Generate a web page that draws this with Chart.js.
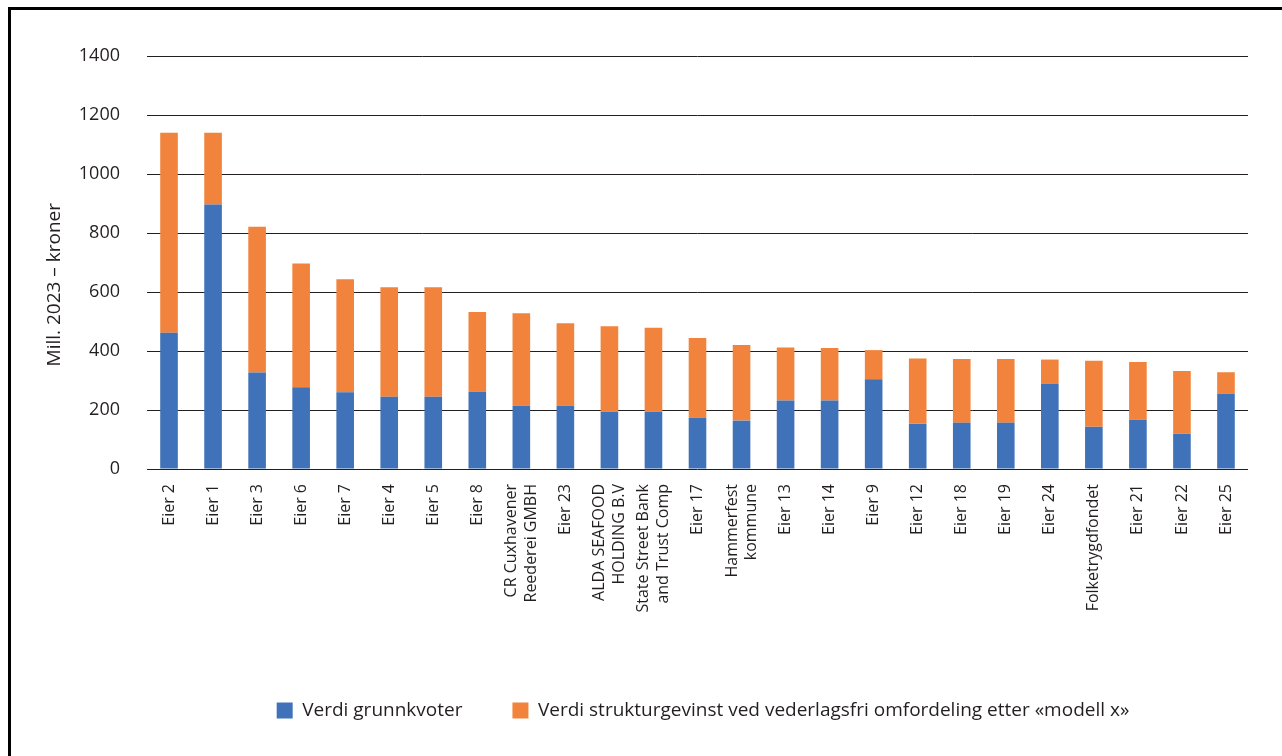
<!DOCTYPE html>
<html>
<head>
<meta charset="utf-8">
<script src="https://cdn.jsdelivr.net/npm/chart.js@4.4.1/dist/chart.umd.min.js"></script>
<style>
    body { margin: 0; background: #fff; }
    #ramme {
        position: absolute; left: 8px; top: 7px;
        width: 1300px; height: 800px;
        border: 3px solid #000;
    }
    #boks { position: absolute; left: 0; top: 0; width: 1282px; height: 756px; }
</style>
</head>
<body>
<div id="ramme"></div>
<div id="boks"><canvas id="graficoEiere"></canvas></div>
<script>
const eiere = [
    "Eier 2", "Eier 1", "Eier 3", "Eier 6", "Eier 7", "Eier 4", "Eier 5", "Eier 8",
    ["CR Cuxhavener", "Reederei GMBH"], "Eier 23", ["ALDA SEAFOOD", "HOLDING B.V"],
    ["State Street Bank", "and Trust Comp"], "Eier 17", ["Hammerfest", "kommune"],
    "Eier 13", "Eier 14", "Eier 9", "Eier 12", "Eier 18", "Eier 19", "Eier 24",
    "Folketrygdfondet", "Eier 21", "Eier 22", "Eier 25",
];
const grunnkvoter = [
    462, 897, 327, 277, 260, 245, 245, 262, 214, 214, 194, 194, 174, 164,
    232, 232, 304, 153, 157, 157, 290, 143, 167, 120, 255,
];
const strukturgevinst = [
    678, 243, 494, 420, 383, 371, 371, 270, 314, 280, 290, 285, 270, 256,
    180, 178, 99, 222, 216, 216, 81, 224, 196, 212, 73,
];
const yTicks = [0, 200, 400, 600, 800, 1000, 1200, 1400];

const ctx = document.getElementById("graficoEiere").getContext("2d");
const fonte = "'Open Sans', 'Noto Sans', sans-serif";
Chart.defaults.font.family = fonte;
Chart.defaults.color = "#231f20";

// legenden står litt til høyre for midten i originalen
const flyttLegende = {
    id: "flyttLegende",
    afterLayout: (chart) => {
        chart.legend.left += 59;
        chart.legend.right += 59;
    },
};

// sentrer etiketter med to linjer over stolpen
const sentrerEtiketter = {
    id: "sentrerEtiketter",
    beforeDraw: (chart) => {
        const items = chart.scales.x.getLabelItems();
        items.forEach((item) => {
            if (Array.isArray(item.label) && !item._flyttet) {
                item.textOffset -= ((item.label.length - 1) * item.font.lineHeight) / 2;
                item._flyttet = true;
            }
        });
    },
};

new Chart(ctx, {
    type: "bar",
    data: {
        labels: eiere,
        datasets: [
            {
                label: "Verdi grunnkvoter",
                data: grunnkvoter,
                backgroundColor: "#3f72b8",
                borderWidth: 0,
            },
            {
                label: "Verdi strukturgevinst ved vederlagsfri omfordeling etter «modell x»",
                data: strukturgevinst,
                backgroundColor: "#f2833c",
                borderWidth: 0,
            },
        ],
    },
    plugins: [flyttLegende, sentrerEtiketter],
    options: {
        responsive: true,
        maintainAspectRatio: false,
        animation: false,
        barPercentage: 0.4,
        categoryPercentage: 1,
        layout: {
            padding: { left: 40, top: 56, right: 34, bottom: 26 },
        },
        plugins: {
            tooltip: { enabled: false },
            legend: {
                position: "bottom",
                labels: {
                    boxWidth: 16,
                    boxHeight: 16,
                    padding: 50,
                    font: { size: 19 },
                    color: "#231f20",
                },
            },
        },
        scales: {
            x: {
                stacked: true,
                grid: { display: false },
                border: { display: false },
                ticks: {
                    minRotation: 90,
                    maxRotation: 90,
                    autoSkip: false,
                    padding: 7,
                    font: { size: 16 },
                },
                afterFit: (scale) => {
                    scale.height = 182;
                },
            },
            y: {
                stacked: true,
                min: 0,
                max: 1400,
                afterBuildTicks: (scale) => {
                    scale.ticks = yTicks.map((v) => ({ value: v }));
                },
                grid: { color: "#231f20", lineWidth: 1, drawTicks: false },
                border: { display: false },
                ticks: {
                    padding: 27,
                    font: { size: 18 },
                    callback: (v) => String(v),
                },
                title: {
                    display: true,
                    text: "Mill. 2023 – kroner\u00a0\u00a0\u00a0\u00a0\u00a0\u00a0\u00a0\u00a0\u00a0",
                    font: { size: 19 },
                    padding: { top: 3, bottom: 0 },
                },
                afterFit: (scale) => {
                    scale.width = 107;
                },
            },
        },
    },
});
</script>
</body>
</html>
